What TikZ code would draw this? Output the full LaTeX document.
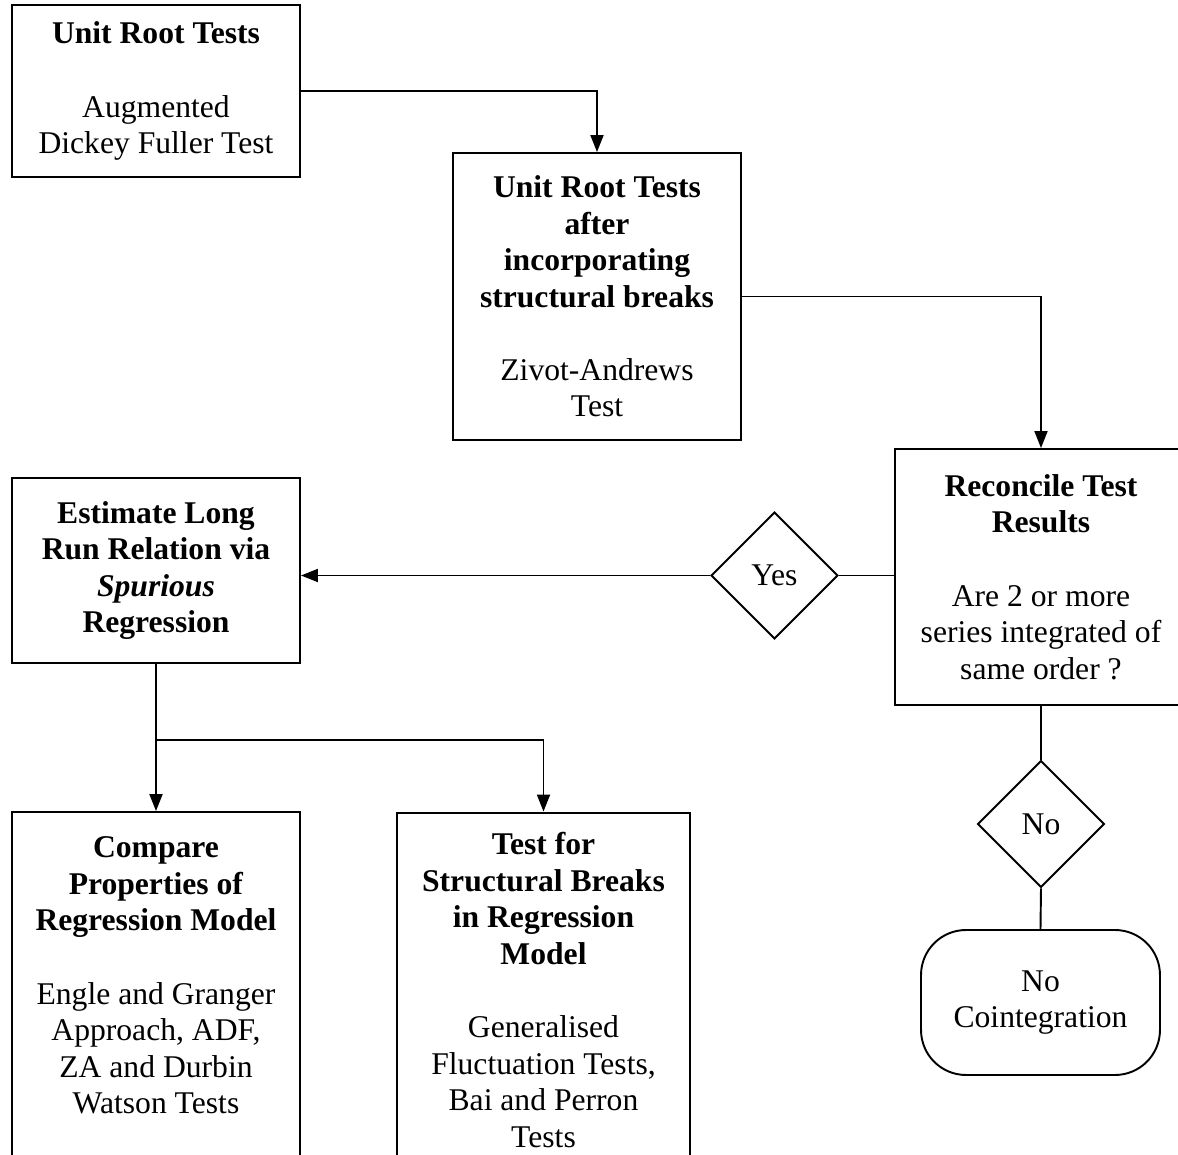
\documentclass[tikz,border=0pt]{standalone}
\usepackage{fontspec}
\setmainfont{Liberation Serif}
\usepackage{tikz}
\usetikzlibrary{arrows.meta,shapes.geometric}

\begin{document}
\begin{tikzpicture}[x=0.02cm, y=-0.02cm, line width=1.1pt,
  every node/.style={font=\fontsize{18}{20.75}\selectfont, align=center, inner sep=0pt},
  stagebox/.style={draw, rectangle, minimum width=5.76cm},
  choice/.style={draw, diamond, minimum size=2.54cm},
  arr/.style={-{Triangle[length=0.34cm, width=0.26cm]}}]
\useasboundingbox (0,0) rectangle (1178,1155);
\clip (0,0) rectangle (1178,1155);
\node[stagebox, minimum height=3.44cm] (urt) at (156,91)
  {\textbf{Unit Root Tests}\\[21pt]Augmented\\Dickey Fuller Test};
\node[stagebox, minimum height=5.74cm] (urtsb) at (597,296.5)
  {\textbf{Unit Root Tests}\\\textbf{after}\\\textbf{incorporating}\\\textbf{structural breaks}\\[21pt]Zivot-Andrews\\Test};
\node[stagebox, minimum width=5.84cm, minimum height=5.12cm] (recon) at (1041,577)
  {\textbf{Reconcile Test}\\\textbf{Results}\\[21pt]Are 2 or more\\series integrated of\\same order ?};
\node[stagebox, minimum height=3.7cm] (est) at (156,570.5)
  {\textbf{Estimate Long}\\\textbf{Run Relation via}\\\textbf{\textit{Spurious}}\\\textbf{Regression}};
\node[stagebox, minimum height=7.26cm] (cmp) at (156,993.5)
  {\textbf{Compare}\\\textbf{Properties of}\\\textbf{Regression Model}\\[21pt]Engle and Granger\\Approach, ADF,\\ZA and Durbin\\Watson Tests\\~};
\node[stagebox, minimum width=5.86cm, minimum height=7.1cm] (sbt) at (543.5,990)
  {\textbf{Test for}\\\textbf{Structural Breaks}\\\textbf{in Regression}\\\textbf{Model}\\[21pt]Generalised\\Fluctuation Tests,\\Bai and Perron\\Tests};
\node[choice] (yes) at (774.5,575.5) {Yes};
\node[choice] (no) at (1041,824) {No};
\node[draw, rectangle, rounded corners=0.9cm, minimum width=4.78cm, minimum height=2.9cm] (nocoint) at (1040.5,1002.5)
  {No\\Cointegration};
\coordinate (split) at (156,740);

\draw[arr] (urt.east) -| (urtsb.north);
\draw[arr] (urtsb.east) -| (recon.north);
\draw (yes.east) -- (yes.east -| recon.west);
\draw[arr] (yes.west) -- (yes.west -| est.east);
\draw (recon.south) -- (no.north);
\draw (no.south) -- (nocoint.north);
\draw[arr] (est.south) -- (cmp.north);
\draw[arr] (split) -| (sbt.north);
\end{tikzpicture}
\end{document}
